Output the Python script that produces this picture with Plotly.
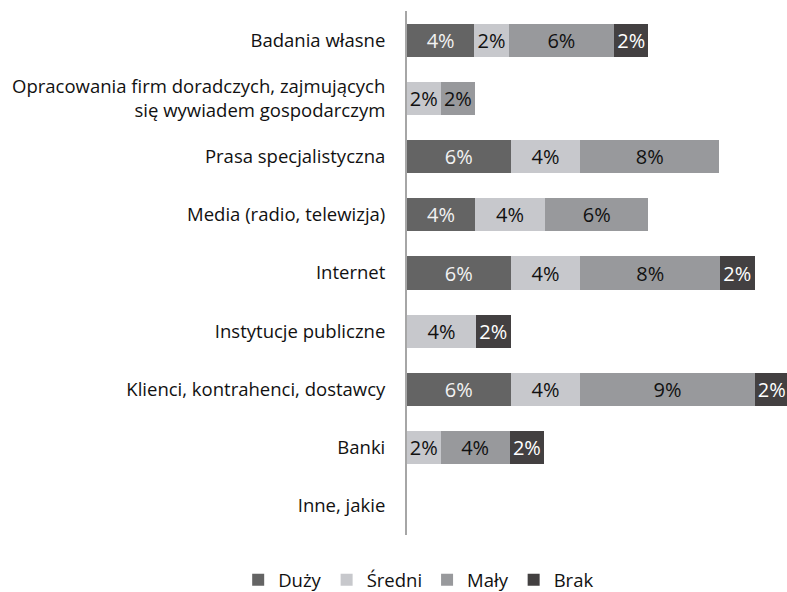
import plotly.graph_objects as go

categories = [
    "Badania własne",
    "Opracowania firm doradczych, zajmujących<br>się wywiadem gospodarczym",
    "Prasa specjalistyczna",
    "Media (radio, telewizja)",
    "Internet",
    "Instytucje publiczne",
    "Klienci, kontrahenci, dostawcy",
    "Banki",
    "Inne, jakie",
]

series_names = ["Duży", "Średni", "Mały", "Brak"]

duzy = [3.9, 0, 6.0, 3.95, 6.0, 0, 6.0, 0, 0]
sredni = [2.0, 1.95, 4.05, 4.05, 4.05, 4.0, 4.05, 1.95, 0]
maly = [6.1, 2.0, 8.05, 6.0, 8.1, 0, 10.1, 4.0, 0]
brak = [2.0, 0, 0, 0, 2.0, 2.0, 2.0, 2.0, 0]

duzy_lbl = ["4%", "", "6%", "4%", "6%", "", "6%", "", ""]
sredni_lbl = ["2%", "2%", "4%", "4%", "4%", "4%", "4%", "2%", ""]
maly_lbl = ["6%", "2%", "8%", "6%", "8%", "", "9%", "4%", ""]
brak_lbl = ["2%", "", "", "", "2%", "2%", "2%", "2%", ""]

colors = ["#646464", "#c7c8cc", "#98999c", "#434041"]
text_colors = ["#f2f2f2", "#111111", "#111111", "#ffffff"]

FONT = "Open Sans"

fig = go.Figure()
for name, vals, lbls, col, tcol in zip(
    series_names,
    [duzy, sredni, maly, brak],
    [duzy_lbl, sredni_lbl, maly_lbl, brak_lbl],
    colors,
    text_colors,
):
    fig.add_trace(
        go.Bar(
            name=name,
            y=categories,
            x=vals,
            orientation="h",
            marker=dict(color=col, line=dict(width=0)),
            text=lbls,
            textposition="inside",
            insidetextanchor="middle",
            constraintext="none",
            textfont=dict(color=tcol, size=20, family=FONT),
            hoverinfo="skip",
        )
    )

fig.update_layout(
    width=787,
    height=592,
    margin=dict(l=407, r=0, t=11, b=57, autoexpand=False),
    barmode="stack",
    bargap=0.433,
    plot_bgcolor="white",
    paper_bgcolor="white",
    font=dict(family=FONT, size=18, color="#111111"),
    legend=dict(
        orientation="h",
        traceorder="normal",
        xref="container",
        yref="container",
        x=0.532,
        xanchor="center",
        y=0.02,
        yanchor="middle",
        font=dict(size=18.5, family=FONT, color="#111111"),
        itemwidth=30,
    ),
)
fig.update_xaxes(
    range=[0, 22.03],
    showticklabels=False,
    showgrid=False,
    zeroline=False,
    showline=False,
)
fig.update_yaxes(
    autorange="reversed",
    showline=True,
    linecolor="#a6a6a6",
    linewidth=2,
    showgrid=False,
    ticks="",
    ticklabelstandoff=16,
    tickfont=dict(size=18.5, family=FONT, color="#111111"),
)

fig.write_html("out.html")
